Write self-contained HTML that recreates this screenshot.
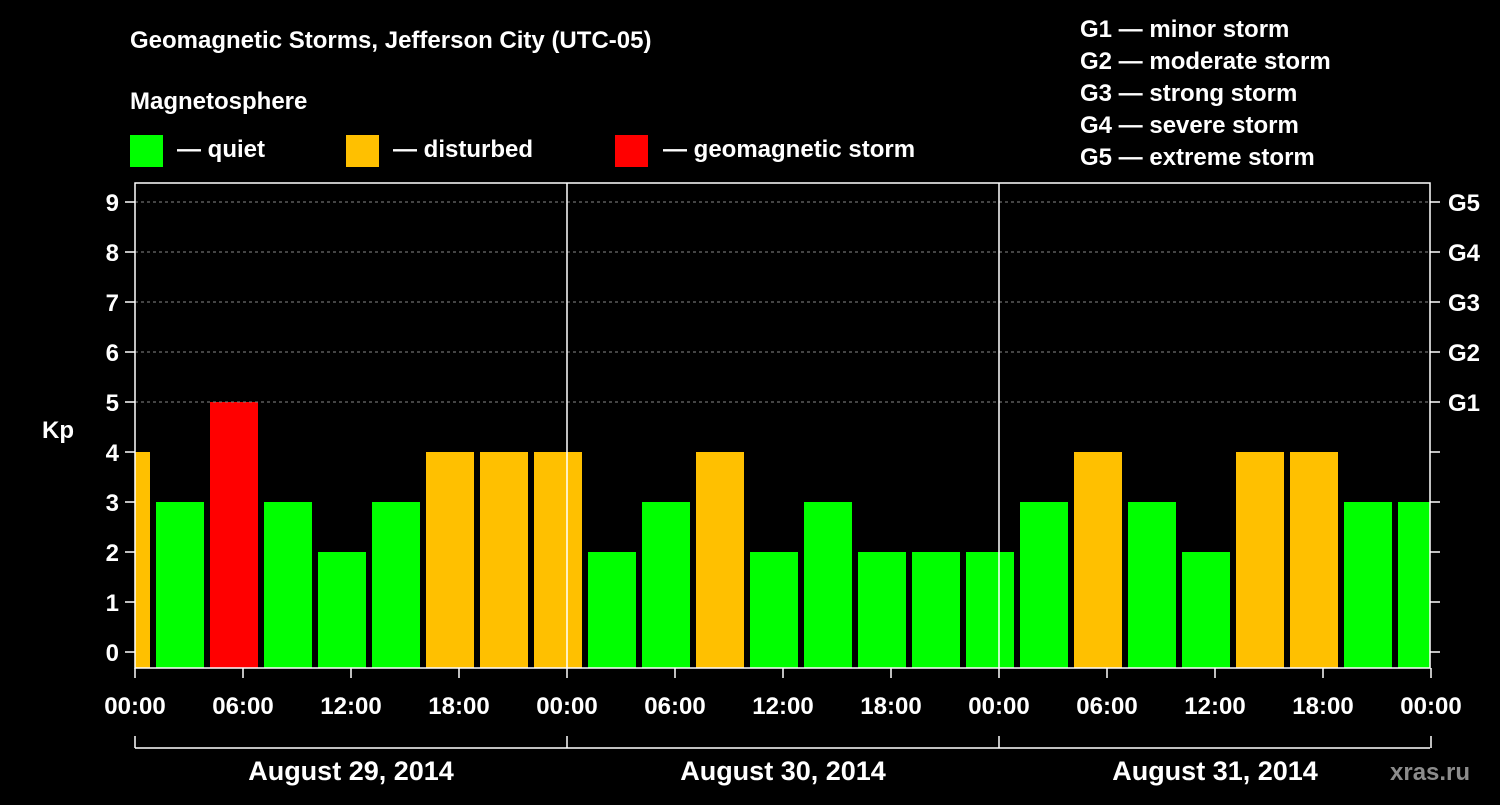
<!DOCTYPE html>
<html><head><meta charset="utf-8"><style>
body{margin:0;background:#000;width:1500px;height:800px;overflow:hidden}
svg text{font-family:"Liberation Sans",Arial,sans-serif;font-weight:bold;fill:#fff}
</style></head><body>
<svg id="chart" width="1500" height="800" viewBox="0 0 1500 800">
<text x="130" y="48" font-size="24">Geomagnetic Storms, Jefferson City (UTC-05)</text>
<text x="130" y="109" font-size="24">Magnetosphere</text>
<g>
<rect x="130" y="135" width="33" height="32" fill="#00ff00"/>
<text x="177" y="157" font-size="24">— quiet</text>
<rect x="346" y="135" width="33" height="32" fill="#ffc000"/>
<text x="393" y="157" font-size="24">— disturbed</text>
<rect x="615" y="135" width="33" height="32" fill="#ff0000"/>
<text x="663" y="157" font-size="24">— geomagnetic storm</text>
</g>
<g font-size="24">
<text x="1080" y="37">G1 — minor storm</text>
<text x="1080" y="69">G2 — moderate storm</text>
<text x="1080" y="101">G3 — strong storm</text>
<text x="1080" y="133">G4 — severe storm</text>
<text x="1080" y="165">G5 — extreme storm</text>
</g>
<text x="42" y="438" font-size="24">Kp</text>
<text x="1390" y="780" font-size="24" fill="#888" style="fill:#8c8c8c">xras.ru</text>
<g id="plot"></g>
</svg>
<script>
const kpValues=[4,3,5,3,2,3,4,4,4,2,3,4,2,3,2,2,2,3,4,3,2,4,4,3,3];
const yTicks=[0,1,2,3,4,5,6,7,8,9];
const gLabels=["","","","","","G1","G2","G3","G4","G5"];
const xTickLabels=["00:00","06:00","12:00","18:00","00:00","06:00","12:00","18:00","00:00","06:00","12:00","18:00","00:00"];
const dayLabels=["August 29, 2014","August 30, 2014","August 31, 2014"];
const X0=135,X1=1430,PX_H=18,Y0=652,PX_K=50,TOP=183,BOT=668;
const xs=h=>X0+h*PX_H; const ys=k=>Y0-k*PX_K;
const NS="http://www.w3.org/2000/svg";
const g=document.getElementById('plot');
function mk(t,a,p){const e=document.createElementNS(NS,t);for(const k in a)e.setAttribute(k,a[k]);(p||g).appendChild(e);return e;}
// bars: first interval starts at -2h (local 22:00 previous day)
const clip=mk('clipPath',{id:'pc'});mk('rect',{x:X0,y:TOP,width:X1-X0,height:BOT-TOP},clip);
const bg=mk('g',{'clip-path':'url(#pc)'});
kpValues.forEach((v,i)=>{const h0=-2+3*i;const x=xs(h0)+3;const w=3*PX_H-6;
const c=v>=5?'#ff0000':(v>=4?'#ffc000':'#00ff00');
const r=mk('rect',{x:x,y:ys(v),width:w,height:BOT-ys(v),fill:c},bg);

});
// gridlines
yTicks.forEach(k=>{if(k>=5){const l=mk('line',{x1:X0,x2:X1,y1:ys(k),y2:ys(k),stroke:'#888','stroke-dasharray':'3,3'});

}
const lt=mk('line',{x1:X0-10,x2:X0,y1:ys(k),y2:ys(k),stroke:'#fff','stroke-width':1.5});
const rt=mk('line',{x1:X1,x2:X1+10,y1:ys(k),y2:ys(k),stroke:'#fff','stroke-width':1.5});
const t=mk('text',{x:X0-16,y:ys(k)+9,'font-size':24,'text-anchor':'end'});t.textContent=k;


if(gLabels[k]){const gt=mk('text',{x:X1+18,y:ys(k)+9,'font-size':24});gt.textContent=gLabels[k];

}});
// day separators
[1,2].forEach(d=>{const l=mk('line',{x1:xs(24*d),x2:xs(24*d),y1:TOP,y2:BOT,stroke:'#fff','stroke-width':1.5});

});
const fr=mk('rect',{x:X0,y:TOP,width:X1-X0,height:BOT-TOP,fill:'none',stroke:'#fff','stroke-width':1.5});


xTickLabels.forEach((s,i)=>{const x=xs(6*i);mk('line',{x1:x,x2:x,y1:BOT,y2:BOT+10,stroke:'#fff','stroke-width':1.5});
const t=mk('text',{x:x,y:714,'font-size':24,'text-anchor':'middle'});t.textContent=s;

});
mk('line',{x1:X0,x2:X1,y1:748,y2:748,stroke:'#fff','stroke-width':1.5});
[0,1,2,3].forEach(d=>mk('line',{x1:xs(24*d),x2:xs(24*d),y1:736,y2:748,stroke:'#fff','stroke-width':1.5}));
dayLabels.forEach((s,i)=>{const t=mk('text',{x:xs(24*i+12),y:780,'font-size':27,'text-anchor':'middle'});t.textContent=s;

});
</script>
</body></html>
